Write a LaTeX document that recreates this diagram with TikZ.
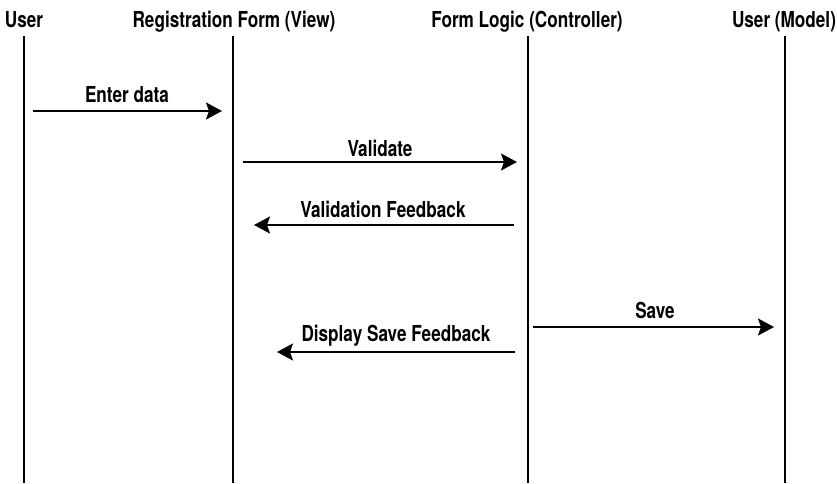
\documentclass[tikz,border=0pt]{standalone}
\usepackage{fontspec}
\setmainfont{TeX Gyre Heros}[FakeStretch=0.78]
\usetikzlibrary{arrows.meta}
\tikzset{
  lbl/.style={inner sep=0pt, anchor=base, font=\fontsize{22}{24}\selectfont\bfseries},
  lifeline/.style={line width=2pt},
  msg/.style={line width=2pt, -{Stealth[length=16pt, width=17pt, inset=3pt]}}
}
\begin{document}
\begin{tikzpicture}[x=1pt, y=-1pt]
  \useasboundingbox (0,0) rectangle (837,483);
  % participants
  \node[lbl] (u)  at (24,27)  {User};
  \node[lbl] (v)  at (234,27) {Registration Form (View)};
  \node[lbl] (c)  at (527,27) {Form Logic (Controller)};
  \node[lbl] (m)  at (784,27) {User (Model)};
  % lifelines
  \coordinate (u0) at (24,36);  \coordinate (u1) at (24,483);
  \coordinate (v0) at (233,36); \coordinate (v1) at (233,483);
  \coordinate (c0) at (528,36); \coordinate (c1) at (528,483);
  \coordinate (m0) at (785,36); \coordinate (m1) at (785,483);
  \draw[lifeline] (u0) -- (u1);
  \draw[lifeline] (v0) -- (v1);
  \draw[lifeline] (c0) -- (c1);
  \draw[lifeline] (m0) -- (m1);
  % message end points
  \coordinate (e0) at (33,111);  \coordinate (e1) at (222,111);
  \coordinate (a0) at (243,162); \coordinate (a1) at (517,162);
  \coordinate (f0) at (514,225); \coordinate (f1) at (254,225);
  \coordinate (s0) at (533,327); \coordinate (s1) at (774,327);
  \coordinate (d0) at (515,352); \coordinate (d1) at (277,352);
  % messages
  \draw[msg] (e0) -- (e1);
  \draw[msg] (a0) -- (a1);
  \draw[msg] (f0) -- (f1);
  \draw[msg] (s0) -- (s1);
  \draw[msg] (d0) -- (d1);
  % message labels
  \node[lbl] (le) at (127,102) {Enter data};
  \node[lbl] (la) at (380,156) {Validate};
  \node[lbl] (lf) at (383,217) {Validation Feedback};
  \node[lbl] (ls) at (655,318) {Save};
  \node[lbl] (ld) at (396,341) {Display Save Feedback};
\end{tikzpicture}
\end{document}
